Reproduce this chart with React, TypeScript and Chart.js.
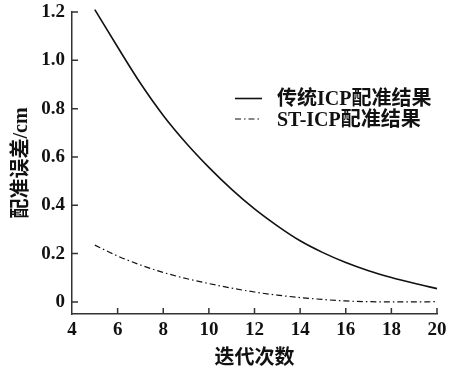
import { useEffect, useRef } from 'react';
import { Chart, registerables } from 'chart.js';

Chart.register(...registerables);

const iterations = [5, 6, 7, 8, 9, 10, 11, 12, 13, 14, 15, 16, 17, 18, 19, 20];
const traditionalIcp = [1.21, 1.055, 0.905, 0.772, 0.658, 0.557, 0.466, 0.385, 0.315, 0.253, 0.204, 0.163, 0.129, 0.101, 0.077, 0.055];
const stIcp = [0.235, 0.19, 0.153, 0.122, 0.097, 0.076, 0.057, 0.041, 0.028, 0.018, 0.01, 0.004, 0.001, 0.0, 0.0, 0.001];
const xTicks = [4, 6, 8, 10, 12, 14, 16, 18, 20];
const yTicks = [0, 0.2, 0.4, 0.6, 0.8, 1.0, 1.2];
const seriesLabels = ['传统ICP配准结果', 'ST-ICP配准结果'];
const xTitle = '迭代次数';
const yTitle = '配准误差/cm';

const FAMILY = '"Liberation Serif", "Times New Roman", "Noto Sans CJK SC", serif';
const INK = '#111';
const AXIS = '#333';

const inwardTicks = {
  id: 'inwardTicks',
  afterDraw(chart: any) {
    const { ctx, chartArea } = chart;
    const xs = chart.scales.x;
    const ys = chart.scales.y;
    ctx.save();
    ctx.strokeStyle = AXIS;
    ctx.lineWidth = 1.5;
    ctx.beginPath();
    xs.ticks.forEach((t: any) => {
      const px = xs.getPixelForValue(t.value);
      if (Math.abs(px - chartArea.left) < 2) return;
      ctx.moveTo(px, chartArea.bottom);
      ctx.lineTo(px, chartArea.bottom - 6);
    });
    ys.ticks.forEach((t: any) => {
      const py = ys.getPixelForValue(t.value);
      ctx.moveTo(chartArea.left, py);
      ctx.lineTo(chartArea.left + 6, py);
    });
    ctx.stroke();
    ctx.restore();
  },
};

const insideLegend = {
  id: 'insideLegend',
  afterDraw(chart: any) {
    const { ctx, chartArea } = chart;
    const x0 = chartArea.left + 163;
    const y0 = chartArea.top + 86.5;
    ctx.save();
    chart.data.datasets.forEach((ds: any, i: number) => {
      const y = y0 + i * 20.5;
      ctx.strokeStyle = ds.borderColor;
      ctx.lineWidth = ds.borderWidth;
      ctx.setLineDash(ds.borderDash || []);
      ctx.beginPath();
      ctx.moveTo(x0, y);
      ctx.lineTo(x0 + 27, y);
      ctx.stroke();
      ctx.setLineDash([]);
      ctx.fillStyle = INK;
      ctx.font = `bold 20px ${FAMILY}`;
      ctx.textBaseline = 'middle';
      ctx.textAlign = 'left';
      ctx.fillText(ds.label, x0 + 42, y + 1.5);
    });
    ctx.restore();
  },
};

export default function App() {
  const ref = useRef<HTMLCanvasElement | null>(null);
  useEffect(() => {
    if (!ref.current) return;
    const tickFont = { family: FAMILY, size: 19, weight: 'bold' as const };
    const titleFont = { family: FAMILY, size: 20, weight: 'bold' as const };
    const chart = new Chart(ref.current, {
      type: 'line',
      data: {
        datasets: [
          {
            label: seriesLabels[0],
            data: iterations.map((x, i) => ({ x, y: traditionalIcp[i] })),
            borderColor: INK,
            borderWidth: 1.6,
            pointRadius: 0,
            cubicInterpolationMode: 'monotone',
            fill: false,
            clip: false,
          },
          {
            label: seriesLabels[1],
            data: iterations.map((x, i) => ({ x, y: stIcp[i] })),
            borderColor: INK,
            borderWidth: 1.2,
            borderDash: [6, 3, 1.5, 3],
            pointRadius: 0,
            cubicInterpolationMode: 'monotone',
            fill: false,
            clip: false,
          },
        ],
      },
      options: {
        animation: false,
        responsive: true,
        maintainAspectRatio: false,
        layout: { padding: { left: 0, right: 26, top: 12, bottom: 0 } },
        plugins: { legend: { display: false }, tooltip: { enabled: false } },
        scales: {
          x: {
            type: 'linear',
            min: 4,
            max: 20,
            afterBuildTicks: (s: any) => {
              s.ticks = xTicks.map((v) => ({ value: v }));
            },
            afterFit: (s: any) => {
              s.height = 63;
              s.paddingLeft = 0;
              s.paddingRight = 0;
            },
            grid: { display: false, drawTicks: false, tickLength: 0 },
            border: { display: true, color: AXIS, width: 1.5 },
            ticks: { font: tickFont, color: INK, padding: 5, autoSkip: false, maxRotation: 0 },
            title: { display: true, text: xTitle, font: titleFont, color: INK, padding: { top: 0, bottom: 6.5 } },
          },
          y: {
            type: 'linear',
            min: -0.05,
            max: 1.2,
            afterBuildTicks: (s: any) => {
              s.ticks = yTicks.map((v) => ({ value: v }));
            },
            afterFit: (s: any) => {
              s.width = 72;
              s.paddingTop = 0;
              s.paddingBottom = 0;
            },
            grid: { display: false, drawTicks: false, tickLength: 0 },
            border: { display: true, color: AXIS, width: 1.5 },
            ticks: {
              font: tickFont,
              color: INK,
              padding: 7,
              callback: (v: any) => (Number(v) === 0 ? '0' : Number(v).toFixed(1)),
            },
            title: { display: true, text: yTitle, font: titleFont, color: INK, padding: { top: 9.5, bottom: 0 } },
          },
        },
      },
      plugins: [inwardTicks, insideLegend],
    });
    return () => chart.destroy();
  }, []);
  return (
    <div style={{ position: 'fixed', left: 0, top: 0, width: 463, height: 377, background: '#fff' }}>
      <canvas ref={ref} />
    </div>
  );
}
